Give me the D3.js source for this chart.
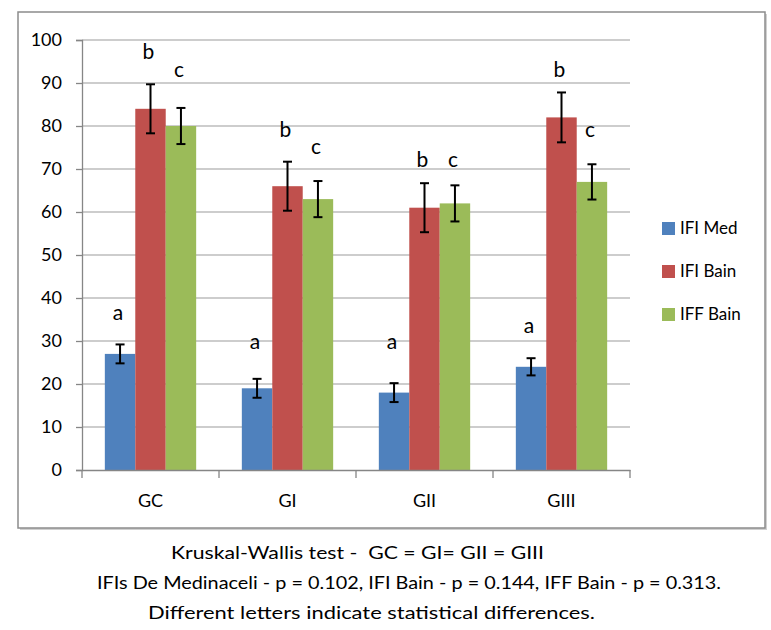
<!DOCTYPE html>
<html>
<head>
<meta charset="utf-8">
<script src="https://cdn.jsdelivr.net/npm/d3@7"></script>
<style>
  body { margin: 0; background: #fff; }
  svg { font-family: Lato, "Open Sans", sans-serif; }
</style>
</head>
<body>
<svg id="chart" width="771" height="630"></svg>
<script>
// data
const groups = ['GC', 'GI', 'GII', 'GIII'];
const seriesNames = ['IFI Med', 'IFI Bain', 'IFF Bain'];
const colors = ['#4F81BD', '#C0504D', '#9BBB59'];
const ifiMed = [27, 19, 18, 24];
const ifiBain = [84, 66, 61, 82];
const iffBain = [80, 63, 62, 67];
const ifiMedErr = [2.2, 2.2, 2.2, 2.0];
const ifiBainErr = [5.7, 5.7, 5.7, 5.8];
const iffBainErr = [4.2, 4.2, 4.2, 4.1];
// significance letters and the value height they sit at
const letters = [['a', 'b', 'c'], ['a', 'b', 'c'], ['a', 'b', 'c'], ['a', 'b', 'c']];
const letterAt = [[36.7, 97.2, 93.0], [29.8, 79.1, 75.3], [29.8, 72.1, 72.1], [33.5, 93.0, 79.1]];
const yTicks = [0, 10, 20, 30, 40, 50, 60, 70, 80, 90, 100];
const caption = [
  'Kruskal-Wallis test -  GC = GI= GII = GIII',
  'IFIs De Medinaceli - p = 0.102, IFI Bain - p = 0.144, IFF Bain - p = 0.313.',
  'Different letters indicate statistical differences.'
];

const values = [ifiMed, ifiBain, iffBain];
const errs = [ifiMedErr, ifiBainErr, iffBainErr];

const svg = d3.select('#chart');
const margin = { top: 40, right: 141, bottom: 160, left: 82 };
const width = 771, height = 630;

// outer chart frame
svg.append('rect')
  .attr('x', 20).attr('y', 14)
  .attr('width', 747).attr('height', 516)
  .attr('fill', '#d0d0d0');
svg.append('rect')
  .attr('x', 18).attr('y', 12)
  .attr('width', 747).attr('height', 516)
  .attr('fill', '#fff')
  .attr('stroke', '#8c8c8c')
  .attr('stroke-width', 1.5);

const x = d3.scaleBand()
  .domain(groups)
  .range([margin.left, width - margin.right]);

const inner = d3.scaleBand()
  .domain(d3.range(3))
  .range([0, x.bandwidth()])
  .paddingOuter(0.75)
  .paddingInner(0);

const y = d3.scaleLinear()
  .domain([0, 100])
  .range([height - margin.bottom, margin.top]);

// gridlines
svg.append('g')
  .selectAll('line')
  .data(yTicks.filter(d => d > 0))
  .join('line')
  .attr('x1', margin.left).attr('x2', width - margin.right)
  .attr('y1', d => y(d)).attr('y2', d => y(d))
  .attr('stroke', '#bdbdbd')
  .attr('stroke-width', 1.3);

// y axis
const yAxis = svg.append('g')
  .attr('transform', `translate(${margin.left},0)`)
  .call(d3.axisLeft(y).tickValues(yTicks).tickSize(6).tickPadding(14));
yAxis.select('.domain').attr('stroke', '#868686').attr('stroke-width', 1.3);
yAxis.selectAll('.tick line').attr('stroke', '#868686').attr('stroke-width', 1.3);
yAxis.selectAll('text')
  .attr('font-size', 18)
  .attr('fill', '#000')
  .style('font-family', 'Lato, sans-serif');

// bars
const gGroups = svg.append('g')
  .selectAll('g')
  .data(groups)
  .join('g')
  .attr('transform', d => `translate(${x(d)},0)`);

gGroups.each(function(grp, gi) {
  const g = d3.select(this);
  values.forEach((vals, si) => {
    const v = vals[gi];
    const e = errs[si][gi];
    const bx = inner(si);
    const bw = inner.bandwidth();
    g.append('rect')
      .attr('x', bx).attr('y', y(v))
      .attr('width', bw).attr('height', y(0) - y(v))
      .attr('fill', colors[si]);
    const cx = bx + bw / 2;
    g.append('line')
      .attr('x1', cx).attr('x2', cx)
      .attr('y1', y(v - e)).attr('y2', y(v + e))
      .attr('stroke', '#000').attr('stroke-width', 2);
    [v - e, v + e].forEach(t => {
      g.append('line')
        .attr('x1', cx - 4.5).attr('x2', cx + 4.5)
        .attr('y1', y(t)).attr('y2', y(t))
        .attr('stroke', '#000').attr('stroke-width', 2);
    });
    g.append('text')
      .attr('x', cx - 2)
      .attr('y', y(letterAt[gi][si]))
      .attr('dy', '0.35em')
      .attr('text-anchor', 'middle')
      .attr('font-size', 21)
      .text(letters[gi][si]);
  });
});

// x axis
const xAxis = svg.append('g')
  .attr('transform', `translate(0,${y(0)})`)
  .call(d3.axisBottom(x).tickSize(0).tickPadding(24));
xAxis.select('.domain').attr('stroke', '#868686').attr('stroke-width', 1.3);
xAxis.selectAll('text')
  .attr('font-size', 18)
  .attr('fill', '#000')
  .style('font-family', 'Lato, sans-serif');
svg.append('g')
  .selectAll('line')
  .data(groups.concat(['end']))
  .join('line')
  .attr('x1', (d, i) => margin.left + i * x.step())
  .attr('x2', (d, i) => margin.left + i * x.step())
  .attr('y1', y(0)).attr('y2', y(0) + 8)
  .attr('stroke', '#868686').attr('stroke-width', 1.3);

// legend
const legend = svg.append('g')
  .attr('transform', 'translate(662,228)')
  .selectAll('g')
  .data(seriesNames)
  .join('g')
  .attr('transform', (d, i) => `translate(0,${i * 43})`);
legend.append('rect')
  .attr('x', 0).attr('y', -6)
  .attr('width', 13).attr('height', 13)
  .attr('fill', (d, i) => colors[i]);
legend.append('text')
  .attr('x', 18).attr('y', 0)
  .attr('dy', '0.36em')
  .attr('font-size', 17)
  .text(d => d);

// caption under the frame
const capX = [171, 97, 148];
const capW = [373, 624, 447];
svg.append('g')
  .selectAll('text')
  .data(caption)
  .join('text')
  .attr('x', (d, i) => capX[i])
  .attr('y', (d, i) => 559 + i * 30)
  .attr('font-size', 18)
  .attr('textLength', (d, i) => capW[i])
  .attr('lengthAdjust', 'spacingAndGlyphs')
  .attr('xml:space', 'preserve')
  .text(d => d);
</script>
</body>
</html>
